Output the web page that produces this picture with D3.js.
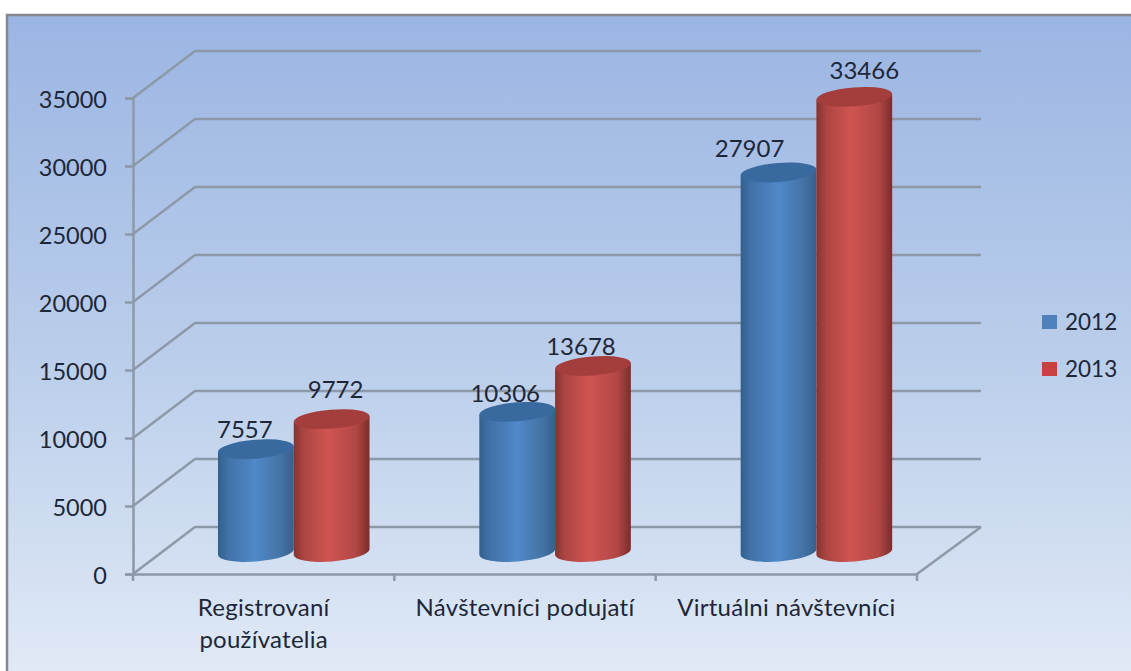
<!DOCTYPE html>
<html>
<head>
<meta charset="utf-8">
<script src="https://cdn.jsdelivr.net/npm/d3@7"></script>
<style>
  body { margin: 0; background: #fff; }
  svg { display: block; }
  text { font-family: Lato, sans-serif; font-size: 22.5px; fill: #1d2738; }
</style>
</head>
<body>
<div id="chart"></div>
<script>
// Data
const categories = ["Registrovaní používatelia", "Návštevníci podujatí", "Virtuálni návštevníci"];
const years = ["2012", "2013"];
const values2012 = [7557, 10306, 27907];
const values2013 = [9772, 13678, 33466];
const yTicks = [0, 5000, 10000, 15000, 20000, 25000, 30000, 35000];

// Label nudges, the original chart has them hand placed
const labelDx2012 = [-11, -12, -29];
const labelDx2013 = [4, -12, 10];
const labelDy2012 = [-11, -10, -15];
const labelDy2013 = [-21, -11, -18];

const width = 1131;
const height = 671;
const depthX = 62;
const depthY = 47;
const gridColor = "#8d99a8";

const svg = d3.select("#chart").append("svg")
    .attr("width", width)
    .attr("height", height);
const defs = svg.append("defs");

// Background
const bg = defs.append("linearGradient").attr("id", "bg")
    .attr("x1", 0).attr("y1", 0).attr("x2", 0).attr("y2", 1);
bg.append("stop").attr("offset", "0%").attr("stop-color", "#9bb5e3");
bg.append("stop").attr("offset", "55%").attr("stop-color", "#bccfeb");
bg.append("stop").attr("offset", "100%").attr("stop-color", "#e0e9f6");
svg.append("rect").attr("x", 6).attr("y", 14)
    .attr("width", width - 6).attr("height", height - 14)
    .attr("fill", "url(#bg)");
svg.append("path").attr("d", `M7,${height}V15H${width}`)
    .attr("fill", "none").attr("stroke", "#85878c").attr("stroke-width", 2.5);

// Scales
const x = d3.scaleBand().domain(categories).range([133, 917]);
const series = d3.scaleBand().domain(years).range([85, 236.5]);
const y = d3.scaleLinear().domain([0, 35000]).range([574, 98]);

// Back wall lines and the slanted ones on the side wall
svg.append("g").selectAll("path").data(yTicks).join("path")
    .attr("d", d => `M133,${y(d)}L${133 + depthX},${y(d) - depthY}H${917 + depthX + 2}`)
    .attr("fill", "none").attr("stroke", gridColor).attr("stroke-width", 2.5);
svg.append("path")
    .attr("d", `M917,${y(0)}L${917 + depthX + 2},${y(0) - depthY}`)
    .attr("fill", "none").attr("stroke", gridColor).attr("stroke-width", 2.5);

// Axes
const yAxis = svg.append("g").attr("transform", "translate(133,0)")
    .call(d3.axisLeft(y).tickValues(yTicks).tickSize(8).tickPadding(18).tickFormat(d3.format("d")));
const xAxis = svg.append("g").attr("transform", `translate(0,${y(0)})`)
    .call(d3.axisBottom(x).tickSize(0).tickFormat(""));
[yAxis, xAxis].forEach(a => {
  a.selectAll("line").attr("stroke", gridColor).attr("stroke-width", 2.5);
  a.select(".domain").attr("stroke", gridColor).attr("stroke-width", 2.5);
});
yAxis.selectAll("text")
    .attr("dy", "0.4em")
    .style("font-size", "23.5px")
    .style("font-family", "Lato, sans-serif")
    .attr("fill", "#1d2738");

// Ticks between the categories
svg.append("g").selectAll("line").data([0, 1, 2, 3]).join("line")
    .attr("x1", i => 133 + i * x.step()).attr("x2", i => 133 + i * x.step())
    .attr("y1", y(0)).attr("y2", y(0) + 7)
    .attr("stroke", gridColor).attr("stroke-width", 2.5);

// Category labels
const catLines = [["Registrovaní", "používatelia"], ["Návštevníci podujatí"], ["Virtuálni návštevníci"]];
svg.append("g").selectAll("text").data(categories).join("text")
    .attr("text-anchor", "middle")
    .style("font-size", "24px")
    .style("letter-spacing", "0.25px")
    .each(function(d, i) {
      d3.select(this).selectAll("tspan").data(catLines[i]).join("tspan")
          .attr("x", x(d) + x.bandwidth() / 2)
          .attr("y", (t, j) => 616 + j * 32)
          .text(t => t);
    });

// Cylinder shading
function shade(id, stops) {
  const g = defs.append("linearGradient").attr("id", id);
  stops.forEach(s => g.append("stop").attr("offset", s[0]).attr("stop-color", s[1]));
}
shade("body2012", [["0", "#31608f"], ["0.14", "#4272a8"], ["0.5", "#5088c8"], ["0.82", "#4474a6"], ["1", "#36608e"]]);
shade("body2013", [["0", "#86332f"], ["0.13", "#ac4542"], ["0.45", "#cf5452"], ["0.82", "#b24745"], ["1", "#7a2d2b"]]);
const tops = { "2012": "#396a9f", "2013": "#a43e3c" };
const legendColors = { "2012": "#4f81bd", "2013": "#c9413e" };

const rx = 38;
const ry = 9.5;
const tilt = 4.5;
const baseY = y(0) - 22;
const cosT = Math.cos(tilt * Math.PI / 180);
const sinT = Math.sin(tilt * Math.PI / 180);

const rows = [
  { year: "2012", values: values2012, dx: labelDx2012, dy: labelDy2012 },
  { year: "2013", values: values2013, dx: labelDx2013, dy: labelDy2013 }
];

rows.forEach(row => {
  const g = svg.append("g");
  row.values.forEach((v, i) => {
    const cx = x(categories[i]) + series(row.year) + series.bandwidth() / 2;
    const topY = baseY - (y(0) - y(v));
    const lx = cx - rx * cosT;
    const rxp = cx + rx * cosT;
    // body, bottom is a tilted half ellipse
    g.append("path")
        .attr("d", `M${lx},${topY + rx * sinT}L${lx},${baseY + rx * sinT}` +
                   `A${rx},${ry} ${-tilt} 0 0 ${rxp},${baseY - rx * sinT}` +
                   `L${rxp},${topY - rx * sinT}Z`)
        .attr("fill", `url(#body${row.year})`);
    g.append("ellipse")
        .attr("cx", cx).attr("cy", topY)
        .attr("rx", rx).attr("ry", ry)
        .attr("transform", `rotate(${-tilt} ${cx} ${topY})`)
        .attr("fill", tops[row.year]);
    g.append("text")
        .attr("x", cx + row.dx[i])
        .attr("y", topY + row.dy[i])
        .attr("text-anchor", "middle")
        .style("font-size", "24px")
        .text(v);
  });
});

// Legend
const legend = svg.append("g").selectAll("g").data(years).join("g")
    .attr("transform", (d, i) => `translate(1042,${315 + i * 47})`);
legend.append("rect").attr("width", 15).attr("height", 14).attr("fill", d => legendColors[d]);
legend.append("text").attr("x", 23).attr("y", 15).text(d => d);
</script>
</body>
</html>
